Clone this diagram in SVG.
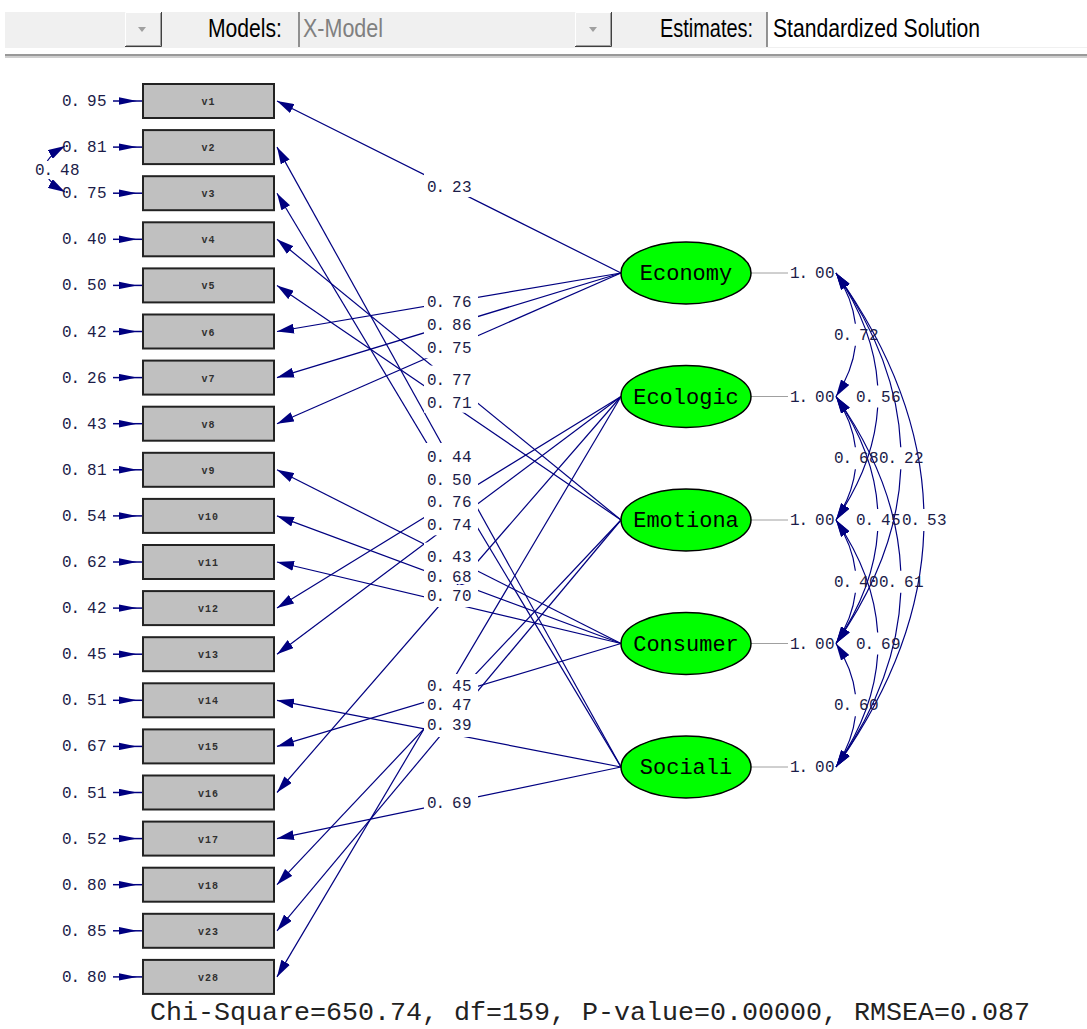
<svg xmlns="http://www.w3.org/2000/svg" width="1087" height="1029" viewBox="0 0 1087 1029">
<style>
.num{font-family:"Liberation Mono","DejaVu Sans Mono",monospace;font-size:16px;fill:#1c1c48}
.vl{font-family:"Liberation Mono","DejaVu Sans Mono",monospace;font-size:10px;font-weight:bold;fill:#303030;text-anchor:middle;letter-spacing:1px}
.lat{font-family:"Liberation Mono","DejaVu Sans Mono",monospace;font-size:22px;fill:#000;text-anchor:middle}
.ui{font-family:"Liberation Sans","Arial",sans-serif;font-size:25px}
.box{fill:#c0c0c0;stroke:#222;stroke-width:2}
.ell{fill:#00ff00;stroke:#000;stroke-width:1.5}
.p{stroke:#000080;stroke-width:1.2;fill:none;marker-end:url(#ah)}
.cov{stroke:#000080;stroke-width:1.2;fill:none;marker-start:url(#ah);marker-end:url(#ah)}
.err{stroke:#000080;stroke-width:1.5;marker-end:url(#eh)}
.var{stroke:#a0a0a0;stroke-width:1}
.bg{fill:#fff}
</style>
<defs>
<marker id="ah" markerUnits="userSpaceOnUse" markerWidth="17" markerHeight="10" refX="17" refY="5" orient="auto-start-reverse"><path d="M0,0 L17,5 L0,10 z" fill="#000080"/></marker>
<marker id="eh" markerUnits="userSpaceOnUse" markerWidth="24" markerHeight="8" refX="24" refY="4" orient="auto"><path d="M0,0.3 L18,4 L0,7.7 z" fill="#000080"/></marker>
</defs>
<rect width="1087" height="1029" fill="#fff"/>
<g id="toolbar">
<rect x="5" y="12" width="1082" height="36" fill="#f0f0f0"/>
<rect x="767" y="12" width="320" height="35" fill="#fff"/>
<line x1="299" y1="12" x2="299" y2="47" stroke="#707070" stroke-width="1.5"/>
<line x1="767" y1="12" x2="767" y2="47" stroke="#707070" stroke-width="1.5"/>
<g>
<path d="M125.5,46 V12.5 H161" stroke="#fff" fill="none"/>
<path d="M125,46.5 H161.5 V12" stroke="#404040" fill="none"/>
<path d="M126,45.5 H160.5 V13" stroke="#a0a0a0" fill="none"/>
<polygon points="138,27 146,27 142,32" fill="#a0a0a0"/>
</g>
<g>
<path d="M575.5,46 V12.5 H611" stroke="#fff" fill="none"/>
<path d="M575,46.5 H611.5 V12" stroke="#404040" fill="none"/>
<path d="M576,45.5 H610.5 V13" stroke="#a0a0a0" fill="none"/>
<polygon points="589,27 597,27 593,32" fill="#a0a0a0"/>
</g>
<text class="ui" x="208" y="37" textLength="74" lengthAdjust="spacingAndGlyphs" fill="#000">Models:</text>
<text class="ui" x="303" y="37" textLength="80" lengthAdjust="spacingAndGlyphs" fill="#808080">X-Model</text>
<text class="ui" x="660" y="37" textLength="93" lengthAdjust="spacingAndGlyphs" fill="#000">Estimates:</text>
<text class="ui" x="773" y="37" textLength="207" lengthAdjust="spacingAndGlyphs" fill="#000">Standardized Solution</text>
<rect x="5" y="54" width="1082" height="2" fill="#999"/>
<rect x="5" y="56" width="1082" height="2" fill="#cfcfcf"/>
</g>
<g id="connectors">
<path class="p" d="M621,273 L277,101"/>
<path class="p" d="M621,273 L277,331.5"/>
<path class="p" d="M621,273 L277,377.6"/>
<path class="p" d="M621,273 L277,423.7"/>
<path class="p" d="M621,396.5 L277,608.1"/>
<path class="p" d="M621,396.5 L277,654.2"/>
<path class="p" d="M621,396.5 L277,792.5"/>
<path class="p" d="M621,396.5 L277,976.9"/>
<path class="p" d="M621,520 L277,239.3"/>
<path class="p" d="M621,520 L277,285.4"/>
<path class="p" d="M621,520 L277,884.7"/>
<path class="p" d="M621,520 L277,930.8"/>
<path class="p" d="M621,643.5 L277,469.8"/>
<path class="p" d="M621,643.5 L277,515.9"/>
<path class="p" d="M621,643.5 L277,562"/>
<path class="p" d="M621,643.5 L277,746.4"/>
<path class="p" d="M621,767 L277,147.1"/>
<path class="p" d="M621,767 L277,193.2"/>
<path class="p" d="M621,767 L277,700.3"/>
<path class="p" d="M621,767 L277,838.6"/>
<line class="err" x1="113" y1="101" x2="143" y2="101"/>
<line class="err" x1="113" y1="147.1" x2="143" y2="147.1"/>
<line class="err" x1="113" y1="193.2" x2="143" y2="193.2"/>
<line class="err" x1="113" y1="239.3" x2="143" y2="239.3"/>
<line class="err" x1="113" y1="285.4" x2="143" y2="285.4"/>
<line class="err" x1="113" y1="331.5" x2="143" y2="331.5"/>
<line class="err" x1="113" y1="377.6" x2="143" y2="377.6"/>
<line class="err" x1="113" y1="423.7" x2="143" y2="423.7"/>
<line class="err" x1="113" y1="469.8" x2="143" y2="469.8"/>
<line class="err" x1="113" y1="515.9" x2="143" y2="515.9"/>
<line class="err" x1="113" y1="562" x2="143" y2="562"/>
<line class="err" x1="113" y1="608.1" x2="143" y2="608.1"/>
<line class="err" x1="113" y1="654.2" x2="143" y2="654.2"/>
<line class="err" x1="113" y1="700.3" x2="143" y2="700.3"/>
<line class="err" x1="113" y1="746.4" x2="143" y2="746.4"/>
<line class="err" x1="113" y1="792.5" x2="143" y2="792.5"/>
<line class="err" x1="113" y1="838.6" x2="143" y2="838.6"/>
<line class="err" x1="113" y1="884.7" x2="143" y2="884.7"/>
<line class="err" x1="113" y1="930.8" x2="143" y2="930.8"/>
<line class="err" x1="113" y1="976.9" x2="143" y2="976.9"/>
<path class="cov" d="M65,146 Q25,169 65,192"/>
<line class="var" x1="751" y1="273" x2="788" y2="273"/>
<line class="var" x1="751" y1="396.5" x2="788" y2="396.5"/>
<line class="var" x1="751" y1="520" x2="788" y2="520"/>
<line class="var" x1="751" y1="643.5" x2="788" y2="643.5"/>
<line class="var" x1="751" y1="767" x2="788" y2="767"/>
<path class="cov" d="M836,273 Q852.44,298.37 855.37,323.75 M855.37,345.75 Q852.44,371.13 836,396.5"/>
<path class="cov" d="M836,396.5 Q852.44,421.87 855.37,447.25 M855.37,469.25 Q852.44,494.63 836,520"/>
<path class="cov" d="M836,520 Q852.44,545.37 855.37,570.75 M855.37,592.75 Q852.44,618.13 836,643.5"/>
<path class="cov" d="M836,643.5 Q852.44,668.87 855.37,694.25 M855.37,716.25 Q852.44,741.63 836,767"/>
<path class="cov" d="M836,273 Q874.26,329.25 877.67,385.5 M877.67,407.5 Q874.26,463.75 836,520"/>
<path class="cov" d="M836,396.5 Q874.26,452.75 877.67,509 M877.67,531 Q874.26,587.25 836,643.5"/>
<path class="cov" d="M836,520 Q874.26,576.25 877.67,632.5 M877.67,654.5 Q874.26,710.75 836,767"/>
<path class="cov" d="M836,273 Q897.14,360.13 900.77,447.25 M900.77,469.25 Q897.14,556.38 836,643.5"/>
<path class="cov" d="M836,396.5 Q897.14,483.63 900.77,570.75 M900.77,592.75 Q897.14,679.88 836,767"/>
<path class="cov" d="M836,273 Q920.08,391 923.83,509 M923.83,531 Q920.08,649 836,767"/>
</g>
<g id="indicators">
<g id="v1"><rect class="box" x="143" y="84" width="131" height="34"/><text class="vl" x="208.5" y="105">v1</text><text class="num" x="62 70.5 87 97" y="106">0.95</text></g>
<g id="v2"><rect class="box" x="143" y="130.1" width="131" height="34"/><text class="vl" x="208.5" y="151.1">v2</text><text class="num" x="62 70.5 87 97" y="152.1">0.81</text></g>
<g id="v3"><rect class="box" x="143" y="176.2" width="131" height="34"/><text class="vl" x="208.5" y="197.2">v3</text><text class="num" x="62 70.5 87 97" y="198.2">0.75</text></g>
<g id="v4"><rect class="box" x="143" y="222.3" width="131" height="34"/><text class="vl" x="208.5" y="243.3">v4</text><text class="num" x="62 70.5 87 97" y="244.3">0.40</text></g>
<g id="v5"><rect class="box" x="143" y="268.4" width="131" height="34"/><text class="vl" x="208.5" y="289.4">v5</text><text class="num" x="62 70.5 87 97" y="290.4">0.50</text></g>
<g id="v6"><rect class="box" x="143" y="314.5" width="131" height="34"/><text class="vl" x="208.5" y="335.5">v6</text><text class="num" x="62 70.5 87 97" y="336.5">0.42</text></g>
<g id="v7"><rect class="box" x="143" y="360.6" width="131" height="34"/><text class="vl" x="208.5" y="381.6">v7</text><text class="num" x="62 70.5 87 97" y="382.6">0.26</text></g>
<g id="v8"><rect class="box" x="143" y="406.7" width="131" height="34"/><text class="vl" x="208.5" y="427.7">v8</text><text class="num" x="62 70.5 87 97" y="428.7">0.43</text></g>
<g id="v9"><rect class="box" x="143" y="452.8" width="131" height="34"/><text class="vl" x="208.5" y="473.8">v9</text><text class="num" x="62 70.5 87 97" y="474.8">0.81</text></g>
<g id="v10"><rect class="box" x="143" y="498.9" width="131" height="34"/><text class="vl" x="208.5" y="519.9">v10</text><text class="num" x="62 70.5 87 97" y="520.9">0.54</text></g>
<g id="v11"><rect class="box" x="143" y="545" width="131" height="34"/><text class="vl" x="208.5" y="566">v11</text><text class="num" x="62 70.5 87 97" y="567">0.62</text></g>
<g id="v12"><rect class="box" x="143" y="591.1" width="131" height="34"/><text class="vl" x="208.5" y="612.1">v12</text><text class="num" x="62 70.5 87 97" y="613.1">0.42</text></g>
<g id="v13"><rect class="box" x="143" y="637.2" width="131" height="34"/><text class="vl" x="208.5" y="658.2">v13</text><text class="num" x="62 70.5 87 97" y="659.2">0.45</text></g>
<g id="v14"><rect class="box" x="143" y="683.3" width="131" height="34"/><text class="vl" x="208.5" y="704.3">v14</text><text class="num" x="62 70.5 87 97" y="705.3">0.51</text></g>
<g id="v15"><rect class="box" x="143" y="729.4" width="131" height="34"/><text class="vl" x="208.5" y="750.4">v15</text><text class="num" x="62 70.5 87 97" y="751.4">0.67</text></g>
<g id="v16"><rect class="box" x="143" y="775.5" width="131" height="34"/><text class="vl" x="208.5" y="796.5">v16</text><text class="num" x="62 70.5 87 97" y="797.5">0.51</text></g>
<g id="v17"><rect class="box" x="143" y="821.6" width="131" height="34"/><text class="vl" x="208.5" y="842.6">v17</text><text class="num" x="62 70.5 87 97" y="843.6">0.52</text></g>
<g id="v18"><rect class="box" x="143" y="867.7" width="131" height="34"/><text class="vl" x="208.5" y="888.7">v18</text><text class="num" x="62 70.5 87 97" y="889.7">0.80</text></g>
<g id="v23"><rect class="box" x="143" y="913.8" width="131" height="34"/><text class="vl" x="208.5" y="934.8">v23</text><text class="num" x="62 70.5 87 97" y="935.8">0.85</text></g>
<g id="v28"><rect class="box" x="143" y="959.9" width="131" height="34"/><text class="vl" x="208.5" y="980.9">v28</text><text class="num" x="62 70.5 87 97" y="981.9">0.80</text></g>
</g>
<g id="errcov-label"><rect class="bg" x="33" y="161" width="50" height="18"/><text class="num" x="35 43.5 60 70" y="175">0.48</text></g>
<g id="latents">
<g id="Economy"><ellipse class="ell" cx="686" cy="273" rx="65" ry="31"/><text class="lat" x="686" y="280">Economy</text><text class="num" x="790 798.5 815 825" y="278">1.00</text></g>
<g id="Ecologic"><ellipse class="ell" cx="686" cy="396.5" rx="65" ry="31"/><text class="lat" x="686" y="403.5">Ecologic</text><text class="num" x="790 798.5 815 825" y="401.5">1.00</text></g>
<g id="Emotiona"><ellipse class="ell" cx="686" cy="520" rx="65" ry="31"/><text class="lat" x="686" y="527">Emotiona</text><text class="num" x="790 798.5 815 825" y="525">1.00</text></g>
<g id="Consumer"><ellipse class="ell" cx="686" cy="643.5" rx="65" ry="31"/><text class="lat" x="686" y="650.5">Consumer</text><text class="num" x="790 798.5 815 825" y="648.5">1.00</text></g>
<g id="Sociali"><ellipse class="ell" cx="686" cy="767" rx="65" ry="31"/><text class="lat" x="686" y="774">Sociali</text><text class="num" x="790 798.5 815 825" y="772">1.00</text></g>
</g>
<g id="path-labels">
<rect class="bg" x="424" y="173" width="54" height="24"/><text class="num" x="427 435.5 452 462" y="192">0.23</text>
<rect class="bg" x="424" y="443" width="54" height="24"/><text class="num" x="427 435.5 452 462" y="462">0.44</text>
<rect class="bg" x="424" y="466.1" width="54" height="24"/><text class="num" x="427 435.5 452 462" y="485.1">0.50</text>
<rect class="bg" x="424" y="365.6" width="54" height="24"/><text class="num" x="427 435.5 452 462" y="384.6">0.77</text>
<rect class="bg" x="424" y="388.7" width="54" height="24"/><text class="num" x="427 435.5 452 462" y="407.7">0.71</text>
<rect class="bg" x="424" y="288.2" width="54" height="24"/><text class="num" x="427 435.5 452 462" y="307.2">0.76</text>
<rect class="bg" x="424" y="311.3" width="54" height="24"/><text class="num" x="427 435.5 452 462" y="330.3">0.86</text>
<rect class="bg" x="424" y="334.3" width="54" height="24"/><text class="num" x="427 435.5 452 462" y="353.3">0.75</text>
<rect class="bg" x="424" y="542.6" width="54" height="24"/><text class="num" x="427 435.5 452 462" y="561.6">0.43</text>
<rect class="bg" x="424" y="564" width="54" height="20"/><text class="num" x="427 435.5 452 462" y="582">0.68</text>
<rect class="bg" x="424" y="488.3" width="54" height="24"/><text class="num" x="427 435.5 452 462" y="507.3">0.76</text>
<rect class="bg" x="424" y="511.3" width="54" height="24"/><text class="num" x="427 435.5 452 462" y="530.3">0.74</text>
<rect class="bg" x="424" y="585" width="54" height="22"/><text class="num" x="427 435.5 452 462" y="601">0.70</text>
<rect class="bg" x="424" y="788.8" width="54" height="24"/><text class="num" x="427 435.5 452 462" y="807.8">0.69</text>
<rect class="bg" x="424" y="695" width="54" height="20"/><text class="num" x="427 435.5 452 462" y="709.5">0.47</text>
<rect class="bg" x="424" y="715" width="54" height="22"/><text class="num" x="427 435.5 452 462" y="730.4">0.39</text>
<rect class="bg" x="424" y="674" width="54" height="21"/><text class="num" x="427 435.5 452 462" y="690.5">0.45</text>
</g>
<g id="cov-labels">
<text class="num" x="834 842.5 859 869" y="339.8">0.72</text>
<text class="num" x="856 864.5 881 891" y="401.5">0.56</text>
<text class="num" x="879 887.5 904 914" y="463.3">0.22</text>
<text class="num" x="902 910.5 927 937" y="525">0.53</text>
<text class="num" x="834 842.5 859 869" y="463.3">0.68</text>
<text class="num" x="856 864.5 881 891" y="525">0.45</text>
<text class="num" x="879 887.5 904 914" y="586.8">0.61</text>
<text class="num" x="834 842.5 859 869" y="586.8">0.40</text>
<text class="num" x="856 864.5 881 891" y="648.5">0.69</text>
<text class="num" x="834 842.5 859 869" y="710.3">0.60</text>
</g>
<text x="150" y="1020" font-family="'Liberation Mono','DejaVu Sans Mono',monospace" font-size="25.5" fill="#222" textLength="880" lengthAdjust="spacingAndGlyphs">Chi-Square=650.74, df=159, P-value=0.00000, RMSEA=0.087</text>
</svg>
